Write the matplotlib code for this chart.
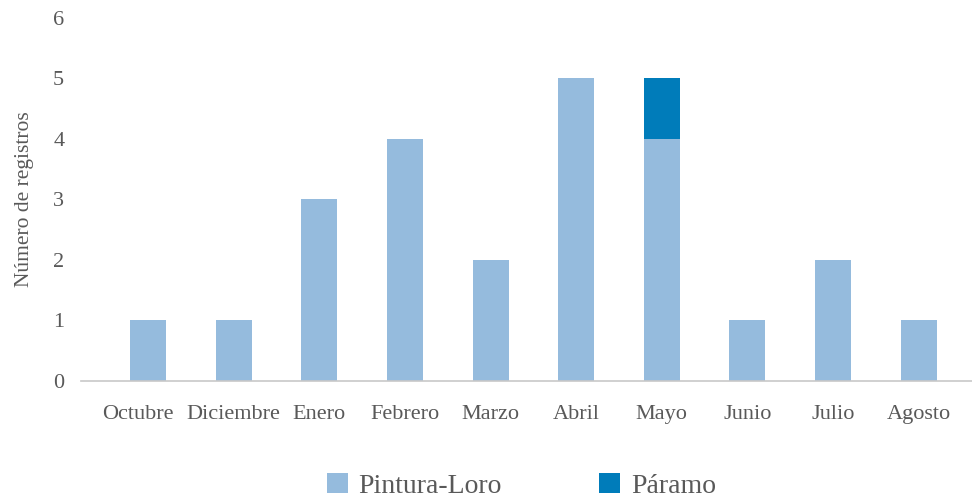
import matplotlib.pyplot as plt
import matplotlib.transforms as mtransforms
import numpy as np

plt.rcParams['font.family'] = ['Liberation Serif', 'DejaVu Serif']

meses = ['Octubre', 'Diciembre', 'Enero', 'Febrero', 'Marzo', 'Abril',
         'Mayo', 'Junio', 'Julio', 'Agosto']
pintura_loro = [1, 1, 3, 4, 2, 5, 4, 1, 2, 1]
paramo = [0, 0, 0, 0, 0, 0, 1, 0, 0, 0]

gris = '#595959'
fig = plt.figure(figsize=(9.72, 4.99), dpi=100)
ax = fig.add_axes([0.0833, 0.2365, 0.9167, 0.7275])

x = np.arange(len(meses))
ax.bar(x, pintura_loro, width=0.42, color='#95bbdd', label='Pintura-Loro')
ax.bar(x, paramo, width=0.42, bottom=pintura_loro, color='#007cba', label='Páramo')

ax.set_xlim(-0.785, len(meses) - 1 + 0.624)
ax.set_ylim(0, 6)
ax.set_xticks(x)
ax.set_xticklabels(meses)
ax.set_yticks(range(7))
ax.tick_params(length=0, labelsize=16, colors=gris)
ax.tick_params(axis='x', pad=17)
ax.tick_params(axis='y', pad=12)
# la primera etiqueta se corre un poco a la izquierda
primera = ax.get_xticklabels()[0]
primera.set_transform(primera.get_transform() +
                      mtransforms.ScaledTranslation(-0.1, 0, fig.dpi_scale_trans))
for s in ['top', 'right', 'left']:
    ax.spines[s].set_visible(False)
ax.spines['bottom'].set_color('#c8c8c8')
ax.spines['bottom'].set_linewidth(1.2)
ax.set_ylabel('Número de registros', fontsize=15.5, color=gris, labelpad=14)

fig.legend(loc='lower center', bbox_to_anchor=(0.5365, -0.05), ncol=2, frameon=False,
           fontsize=20, labelcolor=gris, columnspacing=3.5, handlelength=0.75,
           handleheight=0.75, handletextpad=0.4)

fig.savefig('out.png', dpi=100)
